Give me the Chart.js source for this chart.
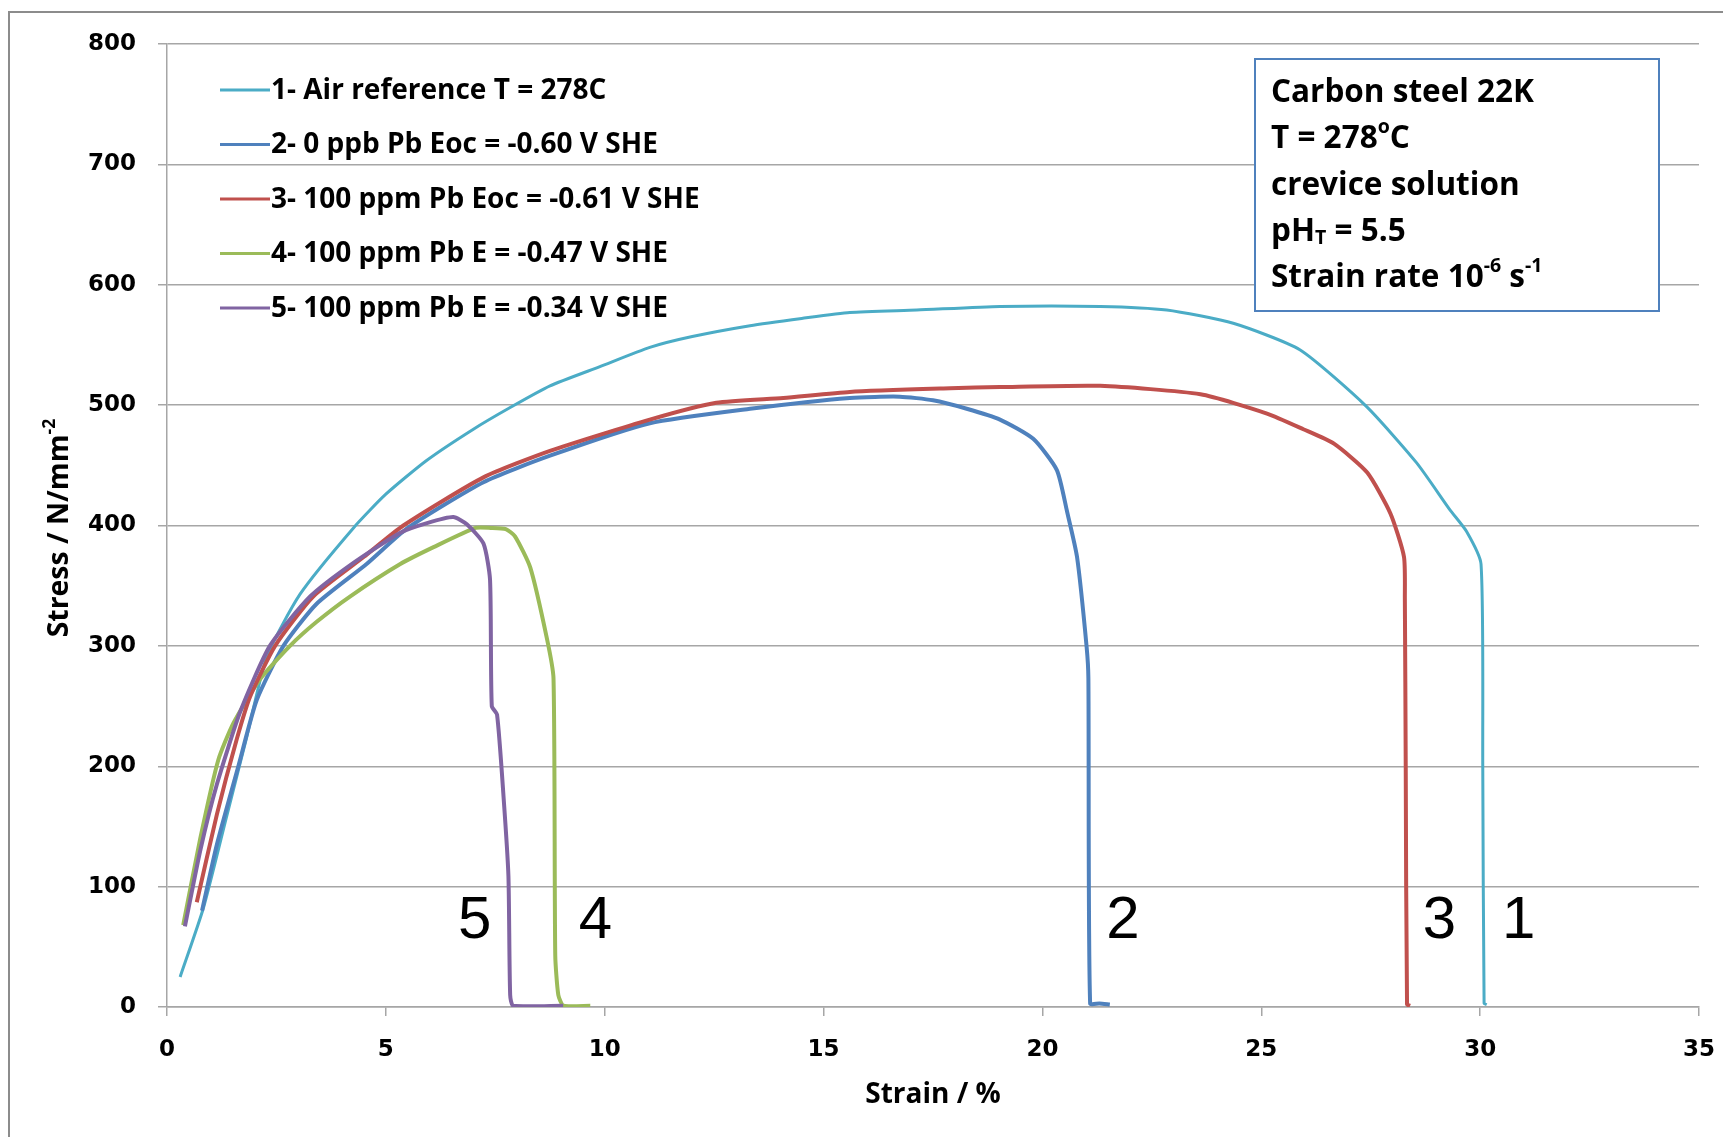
<!DOCTYPE html>
<html>
<head>
<meta charset="utf-8">
<script src="https://cdn.jsdelivr.net/npm/chart.js@4.4.0/dist/chart.umd.min.js"></script>
<style>
  html, body { margin: 0; padding: 0; background: #fff; }
  #wrap { width: 1723px; height: 1137px; }
</style>
</head>
<body>
<div id="wrap"><canvas id="myChart" width="1723" height="1137"></canvas></div>
<script>
// ===== data (strain %, stress N/mm2)
const names = [
  '1- Air reference T = 278C',
  '2- 0 ppb Pb Eoc = -0.60 V SHE',
  '3- 100 ppm Pb Eoc = -0.61 V SHE',
  '4- 100 ppm Pb E = -0.47 V SHE',
  '5- 100 ppm Pb E = -0.34 V SHE'
]
const colors = ['#4bacc6', '#4f81bd', '#c0504d', '#9bbb59', '#8064a2']

const strain1 = [0.30, 0.83, 1.36, 1.82, 2.28, 3.04, 4.26, 5.0, 5.93, 7.0, 7.84, 8.75, 9.89, 11.03, 12.0, 13.32, 14.5, 15.6, 17.13, 19.03, 21.32, 22.84, 24.36, 25.88, 27.4, 28.55, 29.31, 29.69, 30.02, 30.06, 30.09, 30.15]
const stress1 = [25, 82, 158, 224, 291, 343, 398, 426, 454, 480, 498, 516, 532, 548, 557, 566, 572, 577, 579, 582, 582, 579, 568, 546, 499, 452, 413, 395, 368, 200, 3, 2]

const strain2 = [0.8, 1.14, 1.63, 2.05, 2.66, 3.42, 4.56, 5.5, 7.23, 8.75, 11.03, 13.32, 15.6, 16.74, 17.5, 18.27, 19.03, 19.79, 20.33, 20.56, 20.79, 21.01, 21.05, 21.09, 21.3, 21.54]
const stress2 = [80, 135, 200, 255, 300, 335, 368, 398, 436, 458, 485, 497, 506, 507, 504, 497, 488, 472, 446, 412, 374, 299, 273, 3, 3, 2]

const strain3 = [0.68, 1.14, 1.59, 1.90, 2.47, 3.34, 4.5, 5.40, 7.23, 8.75, 11.03, 12.55, 14.08, 15.6, 17.89, 19.03, 21.32, 23.61, 25.13, 25.96, 26.66, 27.42, 27.95, 28.26, 28.28, 28.3, 28.33, 28.4]
const stress3 = [87, 160, 222, 258, 300, 341, 374, 400, 440, 462, 488, 502, 506, 511, 514, 515, 516, 509, 493, 480, 468, 444, 410, 374, 339, 200, 2, 1]

const strain4 = [0.37, 0.76, 1.17, 1.52, 2.12, 2.81, 3.42, 4.18, 5.33, 6.09, 7.05, 7.40, 7.74, 7.95, 8.30, 8.68, 8.83, 8.87, 8.94, 9.06, 9.67]
const stress4 = [68, 140, 205, 236, 272, 300, 320, 341, 368, 382, 398, 398, 397, 391, 365, 306, 273, 43, 10, 1, 1]

const strain5 = [0.41, 0.76, 1.14, 1.67, 2.35, 3.27, 4.26, 5.33, 5.94, 6.54, 6.85, 7.23, 7.38, 7.42, 7.54, 7.69, 7.80, 7.84, 7.91, 9.05]
const stress5 = [67, 130, 185, 245, 300, 341, 369, 394, 402, 407, 401, 385, 355, 250, 243, 174, 109, 10, 1, 1]

// curve number labels
const markText = ['5', '4', '2', '3', '1']
const markX = [7.03, 9.79, 21.84, 29.07, 30.88]
const markY = [71, 71, 71, 71, 71]

const xTicks = [0, 5, 10, 15, 20, 25, 30, 35]
const yTicks = [0, 100, 200, 300, 400, 500, 600, 700, 800]

const strains = [strain1, strain2, strain3, strain4, strain5]
const stresses = [stress1, stress2, stress3, stress4, stress5]
const widths = [3, 4, 4, 4, 4]
const orders = [5, 4, 2, 3, 1]

function pts(xs, ys) {
  return xs.map((x, i) => ({ x: x, y: ys[i] }))
}

const TXT = '"Open Sans", Lato, sans-serif'

// draw text with sub / superscript pieces
function rich(ctx, parts, x, y, size) {
  parts.forEach(p => {
    let s = size, dy = 0
    if (p[1] == 'sup') { s = size * 0.62; dy = -size * 0.36 }
    if (p[1] == 'sub') { s = size * 0.62; dy = size * 0.22 }
    ctx.font = 'bold ' + s + 'px ' + TXT
    ctx.fillText(p[0], x, y + dy)
    x += ctx.measureText(p[0]).width
  })
}

const extras = {
  id: 'extras',
  beforeDraw(chart) {
    const ctx = chart.ctx
    ctx.save()
    ctx.strokeStyle = '#8c8c8c'
    ctx.lineWidth = 2
    ctx.strokeRect(9, 12, 1800, 1200)
    ctx.restore()
  },
  afterDraw(chart) {
    const ctx = chart.ctx
    const xs = chart.scales.x, ys = chart.scales.y
    ctx.save()
    // legend
    ctx.textBaseline = 'middle'
    chart.data.datasets.forEach((d, i) => {
      const y = 90 + i * 54.5
      ctx.strokeStyle = colors[i]
      ctx.lineWidth = 3
      ctx.beginPath()
      ctx.moveTo(220, y)
      ctx.lineTo(270, y)
      ctx.stroke()
      ctx.fillStyle = '#000'
      ctx.font = 'bold 28px ' + TXT
      ctx.textAlign = 'left'
      ctx.fillText(d.label, 271, y + 1)
    })
    // info box
    ctx.fillStyle = '#fff'
    ctx.fillRect(1255, 59, 404, 252)
    ctx.strokeStyle = '#4f81bd'
    ctx.lineWidth = 2
    ctx.strokeRect(1255, 59, 404, 252)
    ctx.fillStyle = '#000'
    const bx = 1271, bs = 31.5
    rich(ctx, [['Carbon steel 22K', 'n']], bx, 93, bs)
    rich(ctx, [['T = 278', 'n'], ['o', 'sup'], ['C', 'n']], bx, 139, bs)
    rich(ctx, [['crevice solution', 'n']], bx, 186, bs)
    rich(ctx, [['pH', 'n'], ['T', 'sub'], [' = 5.5', 'n']], bx, 232, bs)
    rich(ctx, [['Strain rate 10', 'n'], ['-6', 'sup'], [' s', 'n'], ['-1', 'sup']], bx, 278, bs)
    // y title, rotated
    ctx.save()
    ctx.translate(60, 528)
    ctx.rotate(-Math.PI / 2)
    const ts = 28.4
    ctx.font = 'bold ' + ts + 'px ' + TXT
    const parts = [['Stress / N/mm', 'n'], ['-2', 'sup']]
    let w = ctx.measureText('Stress / N/mm').width
    ctx.font = 'bold ' + (ts * 0.62) + 'px ' + TXT
    w += ctx.measureText('-2').width
    rich(ctx, parts, -w / 2, 0, ts)
    ctx.restore()
    // curve numbers
    ctx.font = '60px "Liberation Sans", Arial, sans-serif'
    ctx.textAlign = 'center'
    markText.forEach((t, i) => {
      ctx.fillText(t, xs.getPixelForValue(markX[i]), ys.getPixelForValue(markY[i]))
    })
    ctx.restore()
  }
}

const ctx = document.getElementById('myChart')

new Chart(ctx, {
  type: 'scatter',
  data: {
    datasets: names.map((n, i) => ({
      label: n,
      data: pts(strains[i], stresses[i]),
      showLine: true,
      borderColor: colors[i],
      backgroundColor: colors[i],
      borderWidth: widths[i],
      pointRadius: 0,
      tension: 0.2,
      order: orders[i]
    }))
  },
  options: {
    responsive: false,
    animation: false,
    layout: { padding: { left: 0, right: 24, top: 44, bottom: 0 } },
    plugins: {
      legend: { display: false },
      tooltip: { enabled: false }
    },
    scales: {
      x: {
        type: 'linear',
        min: 0,
        max: 35,
        afterBuildTicks: s => { s.ticks = xTicks.map(v => ({ value: v })) },
        afterFit: s => { s.height = 130; s.paddingRight = 0; s.paddingLeft = 0 },
        grid: { drawOnChartArea: false, drawTicks: true, tickLength: 9, color: '#a6a6a6', lineWidth: 1.5 },
        border: { color: '#a6a6a6', width: 1.5 },
        ticks: { color: '#000', padding: 20, font: { family: '"DejaVu Sans", Verdana, sans-serif', size: 23, weight: 'bold' } },
        title: { display: true, text: 'Strain / %', color: '#000', padding: { top: 0, bottom: 25 }, font: { family: TXT, size: 28, weight: 'bold' } }
      },
      y: {
        type: 'linear',
        min: 0,
        max: 800,
        afterBuildTicks: s => { s.ticks = yTicks.map(v => ({ value: v })) },
        afterFit: s => { s.width = 167 },
        grid: { color: '#a6a6a6', lineWidth: 1.5, drawTicks: true, tickLength: 9 },
        border: { color: '#a6a6a6', width: 1.5 },
        ticks: { color: '#000', padding: 22, font: { family: '"DejaVu Sans", Verdana, sans-serif', size: 23, weight: 'bold' } }
      }
    }
  },
  plugins: [extras]
})
</script>
</body>
</html>
